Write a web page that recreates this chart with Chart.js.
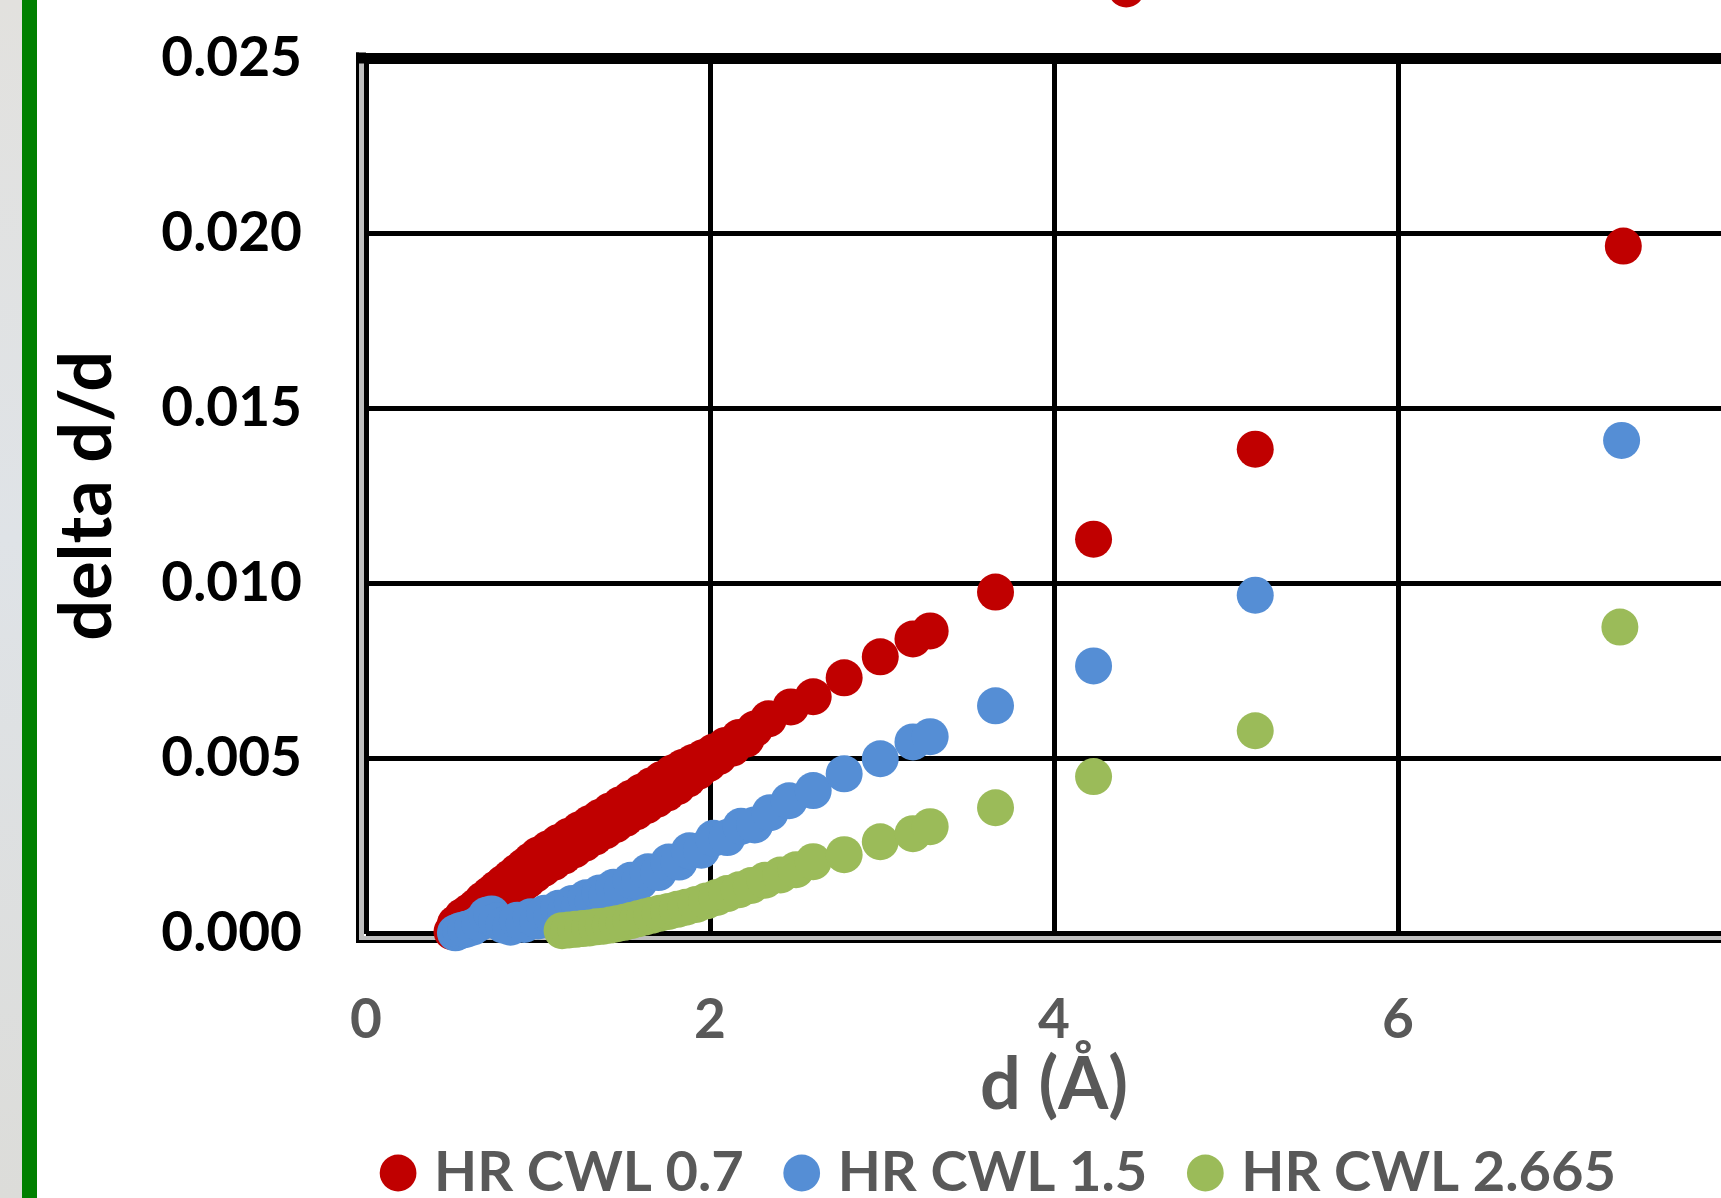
<!DOCTYPE html>
<html>
<head>
<meta charset="utf-8">
<title>delta d/d vs d</title>
<script src="https://cdn.jsdelivr.net/npm/chart.js@4.4.1/dist/chart.umd.min.js"></script>
<style>
  html, body { margin: 0; padding: 0; width: 1721px; height: 1198px; overflow: hidden; background: #fff; }
  #strip { position: absolute; left: 0; top: 0; width: 22px; height: 1198px; z-index: 2;
           background: linear-gradient(#e2e1de, #dfe3e7 45%, #dcdcd9); }
  #bar { position: absolute; left: 22px; top: 0; width: 15px; height: 1198px; z-index: 2; background: #008000; }
  #chart { position: absolute; left: 0; top: -100px; }
</style>
</head>
<body>
<div id="strip"></div>
<div id="bar"></div>
<canvas id="chart" width="1966" height="1311"></canvas>
<script>
// d (Å) and delta d/d for each wavelength setting
const seriesNames = ["HR CWL 0.7", "HR CWL 1.5", "HR CWL 2.665"];

const dRed = [0.50, 0.52, 0.54, 0.56, 0.58, 0.60, 0.62, 0.64, 0.66, 0.68, 0.70, 0.72, 0.74, 0.76, 0.78, 0.80,
  0.82, 0.84, 0.86, 0.88, 0.90, 0.92, 0.94, 0.96, 0.98, 1.00, 1.03, 1.06, 1.09, 1.12, 1.15, 1.18, 1.21, 1.24,
  1.27, 1.30, 1.33, 1.36, 1.39, 1.42, 1.45, 1.48, 1.51, 1.54, 1.57, 1.60, 1.63, 1.66, 1.69, 1.72, 1.75, 1.78,
  1.81, 1.84, 1.87, 1.90, 1.93, 1.96, 1.99, 2.02, 2.05, 2.09, 2.13, 2.17, 2.21, 2.26, 2.34, 2.47, 2.60, 2.78,
  2.99, 3.18, 3.28, 3.66, 4.23, 4.42, 5.17, 7.31];
const ddRed = [0.00005, 0.00028, 0.00012, 0.00048, 0.00024, 0.00062, 0.00034, 0.00077, 0.00044, 0.00096, 0.00056,
  0.00112, 0.00072, 0.00128, 0.00088, 0.00144, 0.00104, 0.00160, 0.00120, 0.00176, 0.00136, 0.00192, 0.00152,
  0.00208, 0.00168, 0.00224, 0.00185, 0.00242, 0.00203, 0.00260, 0.00221, 0.00278, 0.00239, 0.00296, 0.00257,
  0.00314, 0.00275, 0.00332, 0.00293, 0.00350, 0.00311, 0.00368, 0.00329, 0.00386, 0.00347, 0.00404, 0.00365,
  0.00422, 0.00383, 0.00440, 0.00401, 0.00458, 0.00419, 0.00474, 0.00441, 0.00488, 0.00463, 0.00502, 0.00485,
  0.00518, 0.00505, 0.00537, 0.00529, 0.00560, 0.00555, 0.00584, 0.00613, 0.00647, 0.00676, 0.00730, 0.00790,
  0.00841, 0.00864, 0.00975, 0.01126, 0.02697, 0.01383, 0.01963];

const dBlue = [0.52, 0.55, 0.58, 0.62, 0.66, 0.70, 0.73, 0.76, 0.80, 0.84, 0.88, 0.92, 0.96, 1.00, 1.04, 1.08, 1.12,
  1.16, 1.20, 1.24, 1.28, 1.32, 1.36, 1.40, 1.44, 1.49, 1.54, 1.59, 1.64, 1.70, 1.76, 1.82, 1.88, 1.95, 2.02, 2.10,
  2.18, 2.26, 2.35, 2.46, 2.60, 2.78, 2.99, 3.18, 3.28, 3.66, 4.23, 5.17, 7.30];
const ddBlue = [0.00002, 0.00008, 0.00012, 0.00018, 0.00030, 0.00052, 0.00056, 0.00036, 0.00024, 0.00018, 0.00038,
  0.00026, 0.00048, 0.00036, 0.00058, 0.00050, 0.00072, 0.00062, 0.00086, 0.00078, 0.00102, 0.00092, 0.00116,
  0.00108, 0.00132, 0.00126, 0.00152, 0.00148, 0.00176, 0.00174, 0.00204, 0.00204, 0.00236, 0.00238, 0.00272,
  0.00274, 0.00306, 0.00310, 0.00345, 0.00379, 0.00408, 0.00456, 0.00499, 0.00547, 0.00562, 0.00650, 0.00764,
  0.00966, 0.01408];

const dGreen = [1.14, 1.18, 1.22, 1.26, 1.30, 1.34, 1.38, 1.42, 1.46, 1.50, 1.54, 1.58, 1.62, 1.66, 1.71, 1.76, 1.81,
  1.86, 1.92, 1.98, 2.04, 2.10, 2.17, 2.24, 2.32, 2.41, 2.50, 2.60, 2.78, 2.99, 3.18, 3.28, 3.66, 4.23, 5.17, 7.29];
const ddGreen = [0.00008, 0.00010, 0.00012, 0.00014, 0.00016, 0.00019, 0.00021, 0.00024, 0.00028, 0.00032, 0.00037,
  0.00042, 0.00047, 0.00052, 0.00058, 0.00063, 0.00069, 0.00075, 0.00083, 0.00093, 0.00103, 0.00114, 0.00125,
  0.00137, 0.00152, 0.00167, 0.00182, 0.00205, 0.00225, 0.00262, 0.00285, 0.00305, 0.00359, 0.00448, 0.00579,
  0.00875];

const colors = ["#C00000", "#558ED5", "#9BBB59"];
const FONT = "Lato, 'Liberation Sans', sans-serif";

function toPoints(xs, ys) {
    return xs.map((x, i) => ({ x: x, y: ys[i] }));
}

// double frame on the left and bottom edge of the plot area, like the Excel original.
// Also lets points that sit above the axis max be drawn (Chart.js skips them otherwise).
const plotFrame = {
    id: 'plotFrame',
    beforeDatasetsDraw(chart) {
        const { ctx, chartArea: a } = chart;
        ctx.save();
        ctx.fillStyle = '#bfbfbf';
        ctx.fillRect(a.left - 7, a.top + 5, 5, a.bottom - a.top + 1);
        ctx.fillRect(a.left - 7, a.bottom + 2.5, a.right - a.left + 7, 4);
        ctx.fillStyle = '#000';
        ctx.fillRect(a.left - 10, a.top - 5.5, 10, 11);
        ctx.fillRect(a.left - 10, a.top - 5.5, 3, a.bottom - a.top + 15);
        ctx.fillRect(a.left - 10, a.bottom + 6.5, a.right - a.left + 10, 3);
        ctx.restore();

        chart._realArea = a;
        chart.chartArea = Object.assign({}, a, { top: a.top - 300 });
    },
    afterDatasetsDraw(chart) {
        if (chart._realArea) chart.chartArea = chart._realArea;
    }
};

const datasets = [
    { label: seriesNames[0], data: toPoints(dRed, ddRed), order: 3 },
    { label: seriesNames[1], data: toPoints(dBlue, ddBlue), order: 2 },
    { label: seriesNames[2], data: toPoints(dGreen, ddGreen), order: 1 }
].map((ds, i) => Object.assign(ds, {
    backgroundColor: colors[i],
    borderColor: colors[i],
    borderWidth: 0,
    pointRadius: 18.5,
    pointHoverRadius: 18.5,
    pointBorderWidth: 0,
    clip: false
}));

new Chart(document.getElementById("chart").getContext("2d"), {
    type: 'scatter',
    data: { datasets: datasets },
    options: {
        responsive: false,
        animation: false,
        devicePixelRatio: 1,
        events: [],
        layout: { padding: { left: 40, top: 158, right: 0, bottom: 0 } },
        plugins: {
            tooltip: { enabled: false },
            legend: {
                position: 'bottom',
                labels: {
                    usePointStyle: true,
                    pointStyle: 'circle',
                    boxWidth: 16,
                    boxHeight: 26,
                    padding: 50,
                    color: '#595959',
                    font: { family: FONT, size: 56, weight: 'bold' },
                    sort: (a, b) => a.datasetIndex - b.datasetIndex
                }
            }
        },
        scales: {
            x: {
                type: 'linear',
                min: 0,
                max: 8,
                afterFit: s => { s.height = 161.5; },
                grid: { color: '#000', lineWidth: 5, drawTicks: false },
                border: { display: false },
                ticks: {
                    stepSize: 2,
                    padding: 54,
                    color: '#595959',
                    font: { family: FONT, size: 55, weight: 'bold' }
                },
                title: {
                    display: true,
                    text: 'd (Å)',
                    color: '#595959',
                    padding: { top: 0, bottom: -34 },
                    font: { family: FONT, size: 72, weight: 'bold' }
                }
            },
            y: {
                type: 'linear',
                min: 0,
                max: 0.025,
                afterFit: s => { s.width = 326; },
                grid: {
                    color: '#000',
                    lineWidth: c => (c.tick && c.tick.value >= 0.025 ? 11 : 5),
                    drawTicks: false
                },
                border: { display: false },
                ticks: {
                    stepSize: 0.005,
                    padding: 64,
                    color: '#000',
                    font: { family: FONT, size: 55, weight: 'bold' },
                    callback: v => v.toFixed(3)
                },
                title: {
                    display: true,
                    text: 'delta d/d',
                    color: '#000',
                    padding: { top: 5, bottom: 0 },
                    font: { family: FONT, size: 72, weight: 'bold' }
                }
            },
            // empty right-hand space, the plot runs on past the page edge
            yRight: {
                type: 'linear',
                position: 'right',
                afterFit: s => { s.width = 224; },
                grid: { display: false },
                border: { display: false },
                ticks: { display: false }
            }
        }
    },
    plugins: [plotFrame]
});
</script>
</body>
</html>
